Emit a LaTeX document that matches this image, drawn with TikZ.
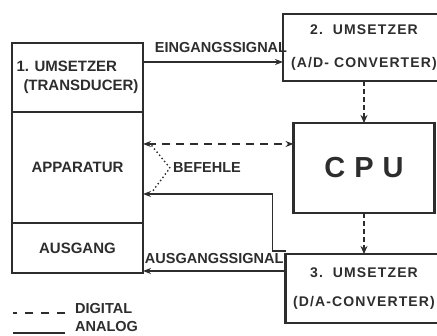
\documentclass[tikz,border=0pt]{standalone}
\usepackage{fontspec}
\setmainfont{Liberation Sans}
\newfontfamily\widefont[LetterSpace=8]{Liberation Sans}
\usetikzlibrary{arrows.meta, positioning}
\definecolor{ink}{RGB}{45, 45, 45}

\begin{document}
\begin{tikzpicture}[
      x=1pt, y=1pt,
      lab/.style={font=\fontsize{14.5}{17}\selectfont\bfseries, text=ink, inner sep=3pt},
      box/.style={rectangle, draw=ink, line width=2.2pt, inner sep=0pt, outer sep=0pt, align=center, font=\fontsize{15}{19}\selectfont\bfseries, text=ink},
      conv/.style={box, font=\fontsize{14}{16}\selectfont\widefont\bfseries},
      arr/.style={-{Stealth[length=8pt, width=6pt]}, draw=ink, line width=1.4pt},
      digi/.style={draw=ink, line width=2pt, dash pattern=on 8pt off 6pt},
      bus/.style={digi, dash pattern=on 5pt off 3pt, -{Stealth[length=8pt, width=7pt]}},
      hint/.style={draw=ink, line width=2pt, line cap=round, dash pattern=on 0pt off 4pt}
    ]
      \useasboundingbox (0,0) rectangle (437,-336);

      % left side: transducer, apparatus, output
      \node[box, anchor=north west, minimum width=131pt, minimum height=69pt, align=left] (trans) at (12,-43)
        {1. UMSETZER\\\hspace*{7pt}(TRANSDUCER)};
      \node[box, below=0pt of trans, minimum width=131pt, minimum height=111pt] (appar) {APPARATUR};
      \node[box, below=0pt of appar, minimum width=131pt, minimum height=50pt] (ausg) {AUSGANG};

      % right side: converters and cpu
      \node[conv, anchor=north west, minimum width=162pt, minimum height=67pt] (ad) at (283,-14)
        {2.\ \ UMSETZER\\[17pt](A/D- CONVERTER)};
      \node[box, below=42pt of ad, minimum width=141pt, minimum height=90pt, font=\fontsize{29}{32}\selectfont\bfseries] (cpu)
        {C\kern9pt P\kern9pt U};
      \node[conv, below=41pt of cpu, minimum width=157pt, minimum height=69pt] (da)
        {3.\ \ UMSETZER\\[13pt](D/A-CONVERTER)};

      \node[lab] (bef) at (207,-168) {BEFEHLE};

      \coordinate (ein) at ([yshift=15.5pt]trans.east);
      \coordinate (cmd) at ([yshift=23.5pt]appar.east);
      \coordinate (back) at ([yshift=-26.5pt]appar.east);
      \coordinate (out) at ([yshift=2pt]ausg.south east);

      \draw[arr] (ein) -- node[lab, above=6pt, xshift=8pt] (einlbl) {EINGANGSSIGNAL} (ein -| ad.west);
      \draw[bus] (ad) -- (cpu);
      \draw[bus] (cpu) -- (da);
      \draw[digi, {Stealth[length=8pt, width=6pt]}-{Stealth[length=8pt, width=6pt]}] (cmd) -- (cmd -| cpu.west);
      \draw[arr] ([yshift=3pt]da.north west) -- ++(-13,0) |- (back);
      \draw[arr] (out -| da.west) -- node[lab, above=4pt] (auslbl) {AUSGANGSSIGNAL} (out);
      \draw[hint] ([xshift=9pt, yshift=-2pt]cmd) -- (bef.west) -- ([xshift=9pt, yshift=2pt]back);

      % legend
      \node[lab, anchor=west] (diglbl) at (72,-309) {DIGITAL};
      \node[lab, anchor=west] (analbl) at (72,-327) {ANALOG};
      \draw[digi, dash pattern=on 8pt off 8pt] ([xshift=-7pt, yshift=1pt]diglbl.base west) -- ++(-52,0);
      \draw[draw=ink, line width=2.6pt] ([xshift=-7pt, yshift=-1pt]analbl.base west) -- ++(-52,0);
    \end{tikzpicture}
\end{document}
